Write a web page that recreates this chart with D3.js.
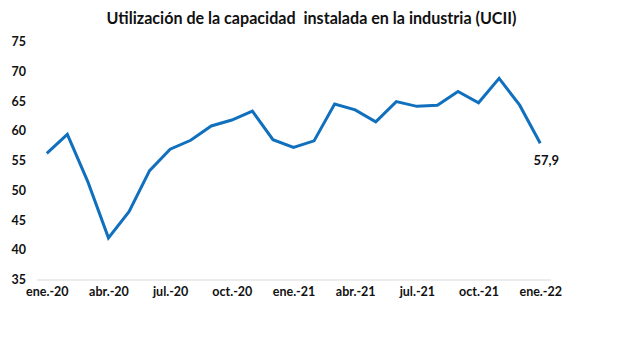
<!DOCTYPE html>
<html>
<head>
<meta charset="utf-8">
<script src="https://cdnjs.cloudflare.com/ajax/libs/d3/7.8.5/d3.min.js"></script>
<style>
  body { margin: 0; background: #fff; }
  text { font-family: Lato, "Liberation Sans", sans-serif; }
</style>
</head>
<body>
<script>
  // monthly UCII, ene.-20 .. ene.-22
  const months = ["ene.-20","feb.-20","mar.-20","abr.-20","may.-20","jun.-20","jul.-20","ago.-20","sep.-20","oct.-20","nov.-20","dic.-20",
                  "ene.-21","feb.-21","mar.-21","abr.-21","may.-21","jun.-21","jul.-21","ago.-21","sep.-21","oct.-21","nov.-21","dic.-21","ene.-22"];
  const ucii = [56.2, 59.4, 51.4, 42.0, 46.4, 53.3, 56.9, 58.4, 60.8, 61.8, 63.3, 58.5,
                57.2, 58.3, 64.5, 63.5, 61.5, 64.9, 64.1, 64.3, 66.6, 64.7, 68.8, 64.3, 57.9];
  const xTicks = ["ene.-20","abr.-20","jul.-20","oct.-20","ene.-21","abr.-21","jul.-21","oct.-21","ene.-22"];
  const yTicks = [35, 40, 45, 50, 55, 60, 65, 70, 75];
  const title = "Utilización de la capacidad\u00a0 instalada en la industria (UCII)";

  const w = 617, h = 340;

  const svg = d3.select("body").append("svg")
    .attr("width", w)
    .attr("height", h);

  const x = d3.scalePoint()
    .domain(months)
    .range([36.5, 550.5])
    .padding(0.5);

  const y = d3.scaleLinear()
    .domain([35, 75])
    .range([279.5, 41.5]);

  svg.append("text")
    .attr("x", 311.5)
    .attr("y", 24)
    .attr("text-anchor", "middle")
    .attr("font-size", 16.1)
    .attr("font-weight", "bold")
    .attr("fill", "#111")
    .text(title);

  // y axis: labels only
  const yAxis = svg.append("g")
    .attr("transform", "translate(26,0)")
    .call(d3.axisLeft(y).tickValues(yTicks).tickSize(0).tickPadding(0));
  yAxis.select(".domain").remove();
  yAxis.selectAll("text")
    .attr("font-size", 12.5)
    .attr("font-weight", "bold")
    .attr("fill", "#111");

  // x axis
  const xAxis = svg.append("g")
    .attr("transform", "translate(0,279.5)")
    .call(d3.axisBottom(x).tickValues(xTicks).tickSize(0).tickPadding(8));
  xAxis.select(".domain")
    .attr("stroke", "#d9d9d9")
    .attr("stroke-width", 1);
  xAxis.selectAll("text")
    .attr("font-size", 12.5)
    .attr("font-weight", "bold")
    .attr("fill", "#111");

  const line = d3.line()
    .x((d, i) => x(months[i]))
    .y(d => y(d));

  svg.append("path")
    .datum(ucii)
    .attr("fill", "none")
    .attr("stroke", "#1170be")
    .attr("stroke-width", 3)
    .attr("stroke-linejoin", "miter")
    .attr("d", line);

  const last = ucii.length - 1;
  svg.append("text")
    .attr("x", x(months[last]) + 6)
    .attr("y", y(ucii[last]) + 22)
    .attr("text-anchor", "middle")
    .attr("font-size", 13)
    .attr("font-weight", "bold")
    .attr("fill", "#111")
    .text(String(ucii[last]).replace(".", ","));
</script>
</body>
</html>
